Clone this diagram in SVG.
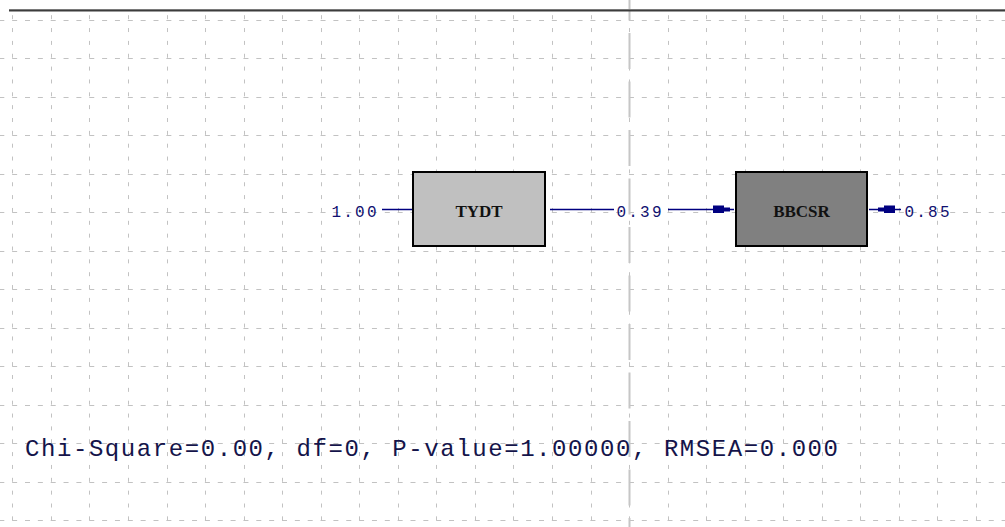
<svg xmlns="http://www.w3.org/2000/svg" width="1005" height="527" viewBox="0 0 1005 527">
<style>
.gh{stroke:#c2c2c2;stroke-width:1;stroke-dasharray:5 7.85;fill:none}
.gv{stroke:#c2c2c2;stroke-width:1;stroke-dasharray:4 8.85;fill:none}
.cl{stroke:#c6c6c6;stroke-width:2;stroke-dasharray:36 12.5;fill:none}
.node{stroke:#000;stroke-width:2}
.nt{font-family:"Liberation Serif",serif;font-weight:bold;font-size:17px;fill:#111;text-anchor:middle}
.lbl{font-family:"Liberation Mono",monospace;font-size:16px;fill:#101070}
.ln{stroke:#000080;stroke-width:1.5;fill:none}
.ah{fill:#000080}
.stat{font-family:"Liberation Mono",monospace;font-size:24px;fill:#14144a}
</style>
<defs>
<path id="arrowhead" d="M0,-2 H-6 V-4 H-17 V3.5 H-6 V2 H0 Z"/>
</defs>
<rect x="0" y="0" width="1005" height="527" fill="#fff"/>
<g id="grid">
<line class="gh" x1="-0.7" y1="20.5" x2="1005" y2="20.5"/>
<line class="gh" x1="-0.7" y1="58.5" x2="1005" y2="58.5"/>
<line class="gh" x1="-0.7" y1="97.5" x2="1005" y2="97.5"/>
<line class="gh" x1="-0.7" y1="135.5" x2="1005" y2="135.5"/>
<line class="gh" x1="-0.7" y1="174.5" x2="1005" y2="174.5"/>
<line class="gh" x1="-0.7" y1="212.5" x2="1005" y2="212.5"/>
<line class="gh" x1="-0.7" y1="251.5" x2="1005" y2="251.5"/>
<line class="gh" x1="-0.7" y1="289.5" x2="1005" y2="289.5"/>
<line class="gh" x1="-0.7" y1="328.5" x2="1005" y2="328.5"/>
<line class="gh" x1="-0.7" y1="366.5" x2="1005" y2="366.5"/>
<line class="gh" x1="-0.7" y1="405.5" x2="1005" y2="405.5"/>
<line class="gh" x1="-0.7" y1="443.5" x2="1005" y2="443.5"/>
<line class="gh" x1="-0.7" y1="482.5" x2="1005" y2="482.5"/>
<line class="gh" x1="-0.7" y1="520.5" x2="1005" y2="520.5"/>
<line class="gv" x1="12.5" y1="15.2" x2="12.5" y2="527"/>
<line class="gv" x1="51.5" y1="15.2" x2="51.5" y2="527"/>
<line class="gv" x1="89.5" y1="15.2" x2="89.5" y2="527"/>
<line class="gv" x1="128.5" y1="15.2" x2="128.5" y2="527"/>
<line class="gv" x1="167.5" y1="15.2" x2="167.5" y2="527"/>
<line class="gv" x1="205.5" y1="15.2" x2="205.5" y2="527"/>
<line class="gv" x1="244.5" y1="15.2" x2="244.5" y2="527"/>
<line class="gv" x1="282.5" y1="15.2" x2="282.5" y2="527"/>
<line class="gv" x1="321.5" y1="15.2" x2="321.5" y2="527"/>
<line class="gv" x1="359.5" y1="15.2" x2="359.5" y2="527"/>
<line class="gv" x1="398.5" y1="15.2" x2="398.5" y2="527"/>
<line class="gv" x1="436.5" y1="15.2" x2="436.5" y2="527"/>
<line class="gv" x1="475.5" y1="15.2" x2="475.5" y2="527"/>
<line class="gv" x1="513.5" y1="15.2" x2="513.5" y2="527"/>
<line class="gv" x1="552.5" y1="15.2" x2="552.5" y2="527"/>
<line class="gv" x1="591.5" y1="15.2" x2="591.5" y2="527"/>
<line class="gv" x1="629.5" y1="15.2" x2="629.5" y2="527"/>
<line class="gv" x1="668.5" y1="15.2" x2="668.5" y2="527"/>
<line class="gv" x1="706.5" y1="15.2" x2="706.5" y2="527"/>
<line class="gv" x1="745.5" y1="15.2" x2="745.5" y2="527"/>
<line class="gv" x1="783.5" y1="15.2" x2="783.5" y2="527"/>
<line class="gv" x1="822.5" y1="15.2" x2="822.5" y2="527"/>
<line class="gv" x1="860.5" y1="15.2" x2="860.5" y2="527"/>
<line class="gv" x1="899.5" y1="15.2" x2="899.5" y2="527"/>
<line class="gv" x1="937.5" y1="15.2" x2="937.5" y2="527"/>
<line class="gv" x1="976.5" y1="15.2" x2="976.5" y2="527"/>
<line class="cl" x1="629.5" y1="-15.5" x2="629.5" y2="527"/>
</g>
<g id="frame">
<line x1="9" y1="9.5" x2="1005" y2="9.5" stroke="#7a7a7a" stroke-width="1"/>
<line x1="9" y1="10.8" x2="1005" y2="10.8" stroke="#3c3c3c" stroke-width="1.6"/>
</g>
<g id="connectors">
<line class="ln" x1="382" y1="209.5" x2="412" y2="209.5"/>
<line class="ln" x1="550" y1="209.5" x2="614" y2="209.5"/>
<line class="ln" x1="668" y1="209.5" x2="734" y2="209.5"/>
<use href="#arrowhead" class="ah" transform="translate(730,209.5)"/>
<line class="ln" x1="869" y1="209.5" x2="901" y2="209.5"/>
<use href="#arrowhead" class="ah" transform="translate(878,209.5) scale(-1,1)"/>
<text class="lbl" x="331.5" y="216.5" textLength="45" lengthAdjust="spacing">1.00</text>
<text class="lbl" x="616.5" y="216.5" textLength="45" lengthAdjust="spacing">0.39</text>
<text class="lbl" x="904.5" y="216.5" textLength="45" lengthAdjust="spacing">0.85</text>
</g>
<g id="node-TYDT">
<rect class="node" x="413" y="172" width="132" height="74" fill="#c0c0c0"/>
<text class="nt" x="479" y="216.5">TYDT</text>
</g>
<g id="node-BBCSR">
<rect class="node" x="736" y="172" width="131" height="74" fill="#808080"/>
<text class="nt" x="801.5" y="216.5">BBCSR</text>
</g>
<g id="stats">
<text class="stat" x="25" y="456" textLength="813" lengthAdjust="spacing">Chi-Square=0.00, df=0, P-value=1.00000, RMSEA=0.000</text>
</g>
</svg>
